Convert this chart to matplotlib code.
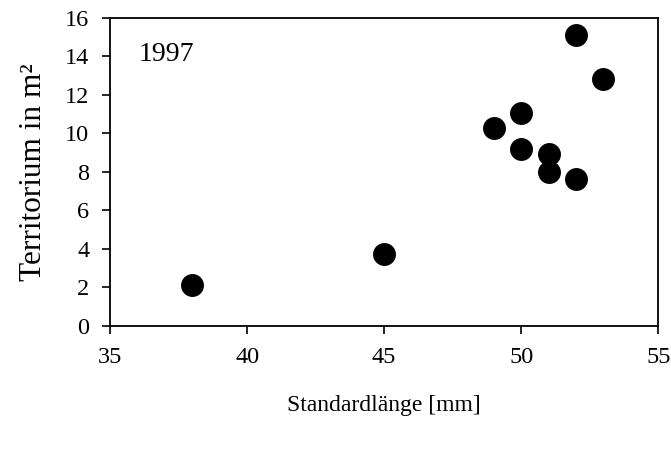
import matplotlib
matplotlib.use("Agg")
import matplotlib.pyplot as plt

standardlaenge = [38, 45, 49, 50, 50, 51, 51, 52, 52, 53]
territorium = [2.1, 3.75, 10.3, 11.05, 9.2, 8.95, 8.0, 7.65, 15.1, 12.85]
x_ticks = [35, 40, 45, 50, 55]
y_ticks = [0, 2, 4, 6, 8, 10, 12, 14, 16]

plt.rcParams['font.family'] = ['Liberation Serif', 'DejaVu Serif']

fig = plt.figure(figsize=(6.71, 4.5), dpi=100)
ax = fig.add_axes([0.164, 0.276, 0.817, 0.684])
ax.scatter(standardlaenge, territorium, s=240, color='black', zorder=3)
ax.set_xlim(35, 55)
ax.set_ylim(0, 16)
ax.set_xticks(x_ticks)
ax.set_yticks(y_ticks)
ax.tick_params(direction='out', length=6, width=1.2, labelsize=17.5, pad=9)
for s in ax.spines.values():
    s.set_linewidth(1.3)
ax.set_xlabel('Standardlänge [mm]', fontsize=17, labelpad=20)
ax.set_ylabel('Territorium in m²', fontsize=22.5, labelpad=12)
ax.text(36.05, 14.1, '1997', fontsize=20, ha='left', va='center')
fig.savefig('out.png', dpi=100)
